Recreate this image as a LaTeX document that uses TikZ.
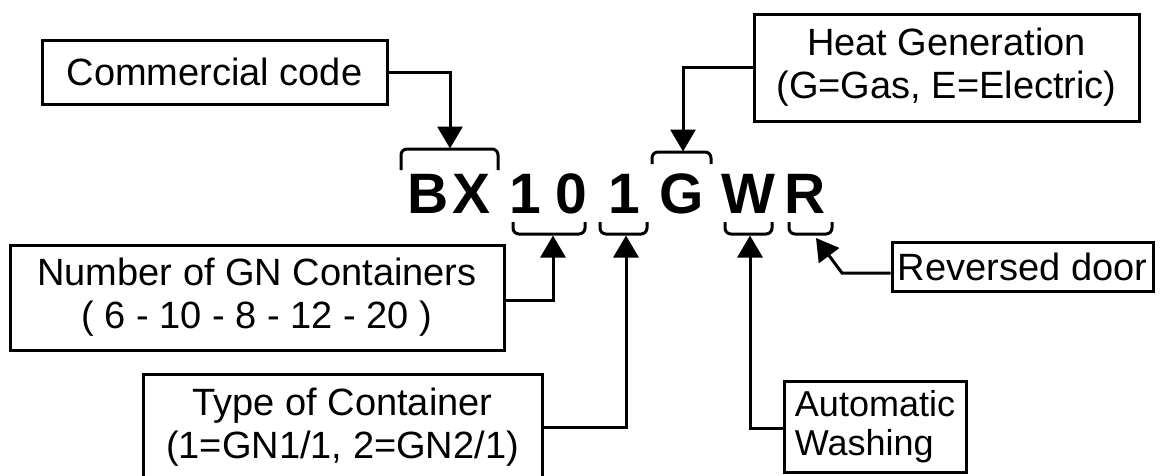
\documentclass[tikz,border=0pt]{standalone}
\usepackage{fontspec}
\setmainfont{Liberation Sans}
\usetikzlibrary{arrows.meta}
\newcommand\lblfnt{\fontsize{38}{43}\selectfont}
\newcommand\autofnt{\fontsize{36}{39}\selectfont}
\newcommand\bigfnt{\fontsize{57}{60}\selectfont\bfseries}
\tikzset{
  lbl/.style={draw, line width=3pt, font=\lblfnt, align=center, inner sep=0pt},
  conn/.style={line width=3pt, -{Triangle[width=25pt,length=22pt]}},
  bracepath/.style={line width=3pt, rounded corners=6pt},
  bigletter/.style={font=\bigfnt, inner sep=0pt, anchor=base}
}
\begin{document}
\begin{tikzpicture}[x=1pt,y=-1pt]
\path[fill=white,use as bounding box] (0,0) rectangle (1163,475);

% label boxes
\node[lbl, minimum width=345, minimum height=64] (cc) at (214.5,72) {Commercial code};
\node[lbl, minimum width=385, minimum height=107] (heat) at (946.5,67.5) {Heat Generation\\(G=Gas, E=Electric)};
\node[lbl, minimum width=494, minimum height=105] (num) at (257,297.5) {Number of GN Containers\\( 6 - 10 - 8 - 12 - 20 )};
\node[lbl, minimum width=399, minimum height=106] (type) at (342.5,427) {Type of Container\\(1=GN1/1, 2=GN2/1)};
\node[lbl, font=\autofnt, align=left, minimum width=182, minimum height=91] (auto) at (875,426.5) {Automatic\\Washing};
\node[lbl, minimum width=261, minimum height=49] (rev) at (1022.5,266.5) {Reversed door};

% code letters
\node[bigletter] (lB) at (428,213) {B};
\node[bigletter] (lX) at (472,213) {X};
\node[bigletter] (l1a) at (525,213) {1};
\node[bigletter] (l0) at (571,213) {0};
\node[bigletter] (l1b) at (624,213) {1};
\node[bigletter] (lG) at (682,213) {G};
\node[bigletter] (lW) at (748,213) {W};
\node[bigletter] (lR) at (805.5,213) {R};

% braces
\draw[bracepath] (401,170) -- (401,149) -- (498,149) -- (498,170);
\draw[bracepath] (652,164) -- (652,152) -- (711,152) -- (711,164);
\draw[bracepath] (513,222) -- (513,234) -- (585,234) -- (585,222);
\draw[bracepath] (600,222) -- (600,234) -- (647,234) -- (647,222);
\draw[bracepath] (725,222) -- (725,234) -- (772,234) -- (772,222);
\draw[bracepath] (789,222) -- (789,234) -- (832,234) -- (832,222);

% arrow tip coordinates
\coordinate (tBX) at (450,148.5);
\coordinate (tG) at (683,151.5);
\coordinate (t10) at (553,235.5);
\coordinate (t1) at (626,235.5);
\coordinate (tW) at (750,235.5);
\coordinate (tR) at (816,238);
\coordinate (kR) at (842,273);

% connectors
\draw[conn] (cc.east) -| (tBX);
\draw[conn] (heat.west) -| (tG);
\draw[conn] ([yshift=-2.5pt]num.east) -| (t10);
\draw[conn] (type.east) -| (t1);
\draw[conn] ([yshift=-1.5pt]auto.west) -| (tW);
\draw[conn] ([yshift=-6.5pt]rev.west) -- (kR) -- (tR);
\end{tikzpicture}
\end{document}
